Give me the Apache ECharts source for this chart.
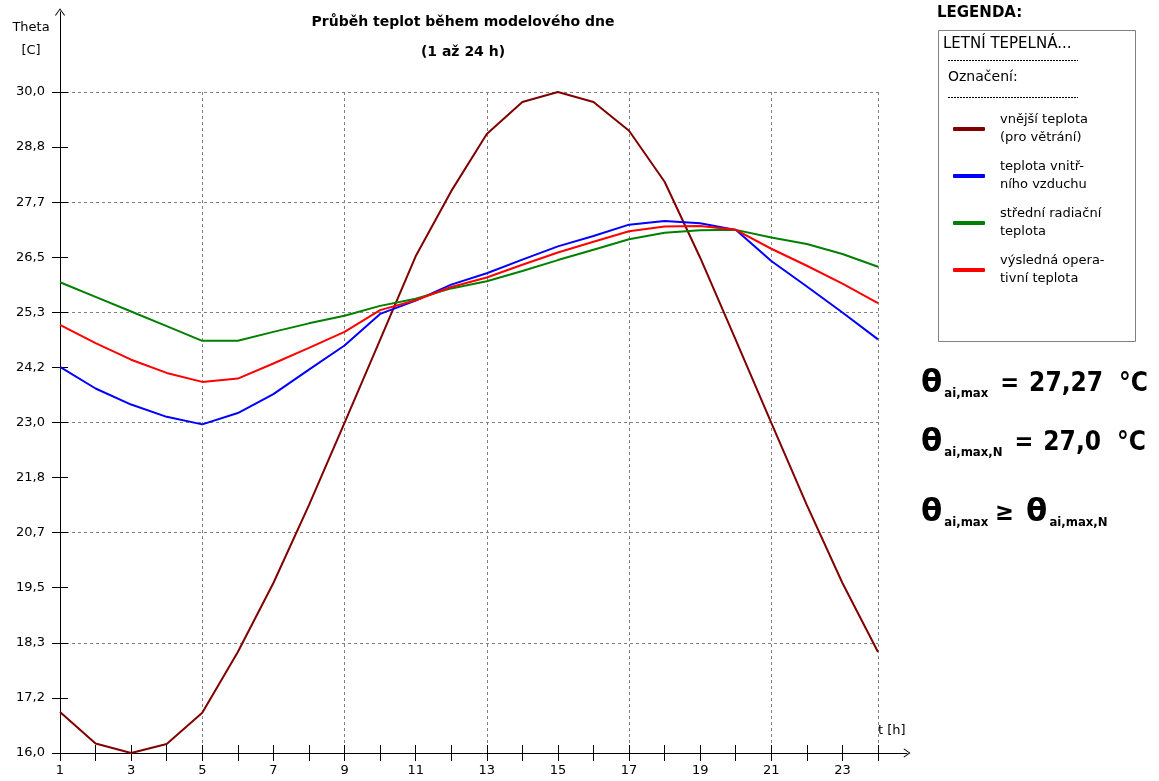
<!DOCTYPE html>
<html>
<head>
<meta charset="utf-8">
<script src="https://cdn.jsdelivr.net/npm/echarts@6/dist/echarts.min.js"></script>
<style>
  html, body { margin: 0; padding: 0; background: #fff; }
  #chart { width: 1159px; height: 781px; }
</style>
</head>
<body>
<div id="chart"></div>
<script>
// Hour of the model day
var hours = [1, 2, 3, 4, 5, 6, 7, 8, 9, 10, 11, 12, 13, 14, 15, 16, 17, 18, 19, 20, 21, 22, 23, 24];

// Temperatures [°C]
var outdoorTemp = [16.87, 16.20, 16.00, 16.19, 16.85, 18.14, 19.60, 21.25, 22.99, 24.75, 26.52, 27.90,
                   29.11, 29.79, 30.00, 29.79, 29.18, 28.10, 26.49, 24.75, 22.99, 21.25, 19.60, 18.14];
var indoorAirTemp = [24.18, 23.72, 23.38, 23.12, 22.96, 23.20, 23.60, 24.12, 24.63, 25.30, 25.58, 25.92,
                     26.16, 26.45, 26.73, 26.95, 27.19, 27.27, 27.22, 27.08, 26.42, 25.88, 25.33, 24.76];
var radiantTemp = [25.97, 25.66, 25.35, 25.04, 24.73, 24.73, 24.92, 25.10, 25.26, 25.47, 25.62, 25.84,
                   25.99, 26.21, 26.44, 26.66, 26.88, 27.02, 27.07, 27.08, 26.92, 26.78, 26.57, 26.30];
var operativeTemp = [25.07, 24.68, 24.33, 24.05, 23.86, 23.93, 24.25, 24.58, 24.92, 25.38, 25.59, 25.87,
                     26.07, 26.34, 26.60, 26.83, 27.05, 27.15, 27.16, 27.08, 26.68, 26.32, 25.94, 25.53];

var seriesNames = ['vnější teplota\n(pro větrání)', 'teplota vnitř-\nního vzduchu',
                   'střední radiační\nteplota', 'výsledná opera-\ntivní teplota'];
var seriesColors = ['#800000', '#0000ff', '#008000', '#ff0000'];

var Y_MIN = 16, Y_MAX = 30, Y_STEP = (Y_MAX - Y_MIN) / 12;
var X_MIN = 1, X_MAX = 24;

function pairs(values) {
  return hours.map(function (h, i) { return [h, values[i]]; });
}

// open arrow head for the axis ends
var chevron = 'path://M0,0 L5,7 L4.2,7.6 L0,1.6 L-4.2,7.6 L-5,7 Z';
var uiFont = 'DejaVu Sans';
var mathFont = 'DejaVu Sans Condensed';

function blankAxis(extra) {
  var base = {
    axisLine: { show: false }, axisTick: { show: false },
    axisLabel: { show: false }, splitLine: { show: false }
  };
  for (var k in extra) base[k] = extra[k];
  return base;
}

function formulaRich() {
  var c = '#000';
  return {
    th: { fontFamily: uiFont, fontSize: 31, fontWeight: 'bold', color: c },
    s:  { fontFamily: mathFont, fontSize: 13, fontWeight: 'bold', color: c, padding: [19, 0, 0, 2] },
    op: { fontFamily: mathFont, fontSize: 25, fontWeight: 'bold', color: c, padding: [0, 0, 0, 12] },
    ge: { fontFamily: mathFont, fontSize: 25, fontWeight: 'bold', color: c, padding: [0, 0, 0, 7] },
    n:  { fontFamily: mathFont, fontSize: 26, fontWeight: 'bold', color: c, padding: [0, 0, 0, 10] },
    u:  { fontFamily: mathFont, fontSize: 26, fontWeight: 'bold', color: c, padding: [0, 0, 0, 16] },
    th2:{ fontFamily: uiFont, fontSize: 31, fontWeight: 'bold', color: c, padding: [0, 0, 0, 12] }
  };
}

var chart = echarts.init(document.getElementById('chart'), null, { renderer: 'canvas' });

var option = {
  animation: false,
  backgroundColor: '#ffffff',
  grid: [
    { left: 60, right: 281, top: 92, bottom: 28 },
    { left: 60, right: 252, top: 12, bottom: 28 }
  ],
  xAxis: [
    // hour ticks below the axis + labels
    blankAxis({
      gridIndex: 0, type: 'value', position: 'bottom', min: X_MIN, max: X_MAX, interval: 1,
      axisTick: { show: true, length: 8, lineStyle: { color: '#000', width: 1 } },
      axisLabel: {
        show: true, margin: 11, color: '#000', fontFamily: uiFont, fontSize: 13,
        formatter: function (v) { return (Math.round(v) % 2 === 1) ? String(Math.round(v)) : ''; }
      }
    }),
    // hour ticks above the axis
    blankAxis({
      gridIndex: 0, type: 'value', position: 'bottom', min: X_MIN, max: X_MAX, interval: 1,
      axisTick: { show: true, inside: true, length: 8, lineStyle: { color: '#000', width: 1 } }
    }),
    // dashed grid every 4 hours
    blankAxis({
      gridIndex: 0, type: 'value', position: 'bottom', min: X_MIN, max: X_MAX, interval: 4,
      splitLine: { show: true, lineStyle: { color: '#808080', type: [3, 3], width: 1 } }
    }),
    // axis line with arrow
    blankAxis({
      gridIndex: 1, type: 'value', position: 'bottom', min: 0, max: 1,
      axisLine: { show: true, onZero: false, lineStyle: { color: '#000', width: 1 },
                  symbol: ['none', chevron], symbolSize: [10, 7] }
    })
  ],
  yAxis: [
    blankAxis({
      gridIndex: 0, type: 'value', position: 'left', min: Y_MIN, max: Y_MAX, interval: Y_STEP,
      axisTick: { show: true, length: 8, lineStyle: { color: '#000', width: 1 } },
      axisLabel: {
        show: true, margin: 15, color: '#000', fontFamily: uiFont, fontSize: 13,
        formatter: function (v) { return v.toFixed(1).replace('.', ','); }
      }
    }),
    blankAxis({
      gridIndex: 0, type: 'value', position: 'left', min: Y_MIN, max: Y_MAX, interval: Y_STEP,
      axisTick: { show: true, inside: true, length: 8, lineStyle: { color: '#000', width: 1 } }
    }),
    blankAxis({
      gridIndex: 0, type: 'value', position: 'left', min: Y_MIN, max: Y_MAX, interval: Y_STEP * 2,
      splitLine: { show: true, lineStyle: { color: '#808080', type: [3, 3], width: 1 } }
    }),
    blankAxis({
      gridIndex: 1, type: 'value', position: 'left', min: 0, max: 1,
      axisLine: { show: true, onZero: false, lineStyle: { color: '#000', width: 1 },
                  symbol: ['none', chevron], symbolSize: [10, 8] }
    })
  ],
  legend: {
    orient: 'vertical', left: 948, top: 106,
    itemWidth: 32, itemHeight: 4, itemGap: 11, icon: 'roundRect',
    selectedMode: false,
    textStyle: { color: '#000', fontFamily: uiFont, fontSize: 13, lineHeight: 18, padding: [0, 0, 0, 10] },
    data: seriesNames
  },
  series: [outdoorTemp, indoorAirTemp, radiantTemp, operativeTemp].map(function (vals, i) {
    return {
      name: seriesNames[i], type: 'line', xAxisIndex: 0, yAxisIndex: 0,
      data: pairs(vals), showSymbol: false, symbol: 'none',
      lineStyle: { color: seriesColors[i], width: 2 }, itemStyle: { color: seriesColors[i] },
      z: 3
    };
  }),
  graphic: [
    { type: 'text', x: 463, y: 15, style: { text: 'Průběh teplot během modelového dne', textAlign: 'center',
      fill: '#000', font: 'bold 14px "' + uiFont + '"' } },
    { type: 'text', x: 463, y: 45, style: { text: '(1 až 24 h)', textAlign: 'center',
      fill: '#000', font: 'bold 14px "' + uiFont + '"' } },
    { type: 'text', x: 31, y: 16, style: { text: 'Theta\n[C]', textAlign: 'center', lineHeight: 23,
      fill: '#000', font: '13px "' + uiFont + '"' } },
    { type: 'text', x: 878, y: 724, style: { text: 't [h]', fill: '#000', font: '13px "' + uiFont + '"' } },
    { type: 'text', x: 937, y: 6, style: { text: 'LEGENDA:', fill: '#000', font: 'bold 15px "' + uiFont + '"' } },
    { type: 'rect', shape: { x: 938.5, y: 30.5, width: 197, height: 311 },
      style: { fill: '#fff', stroke: '#808080', lineWidth: 1 }, z: -1 },
    { type: 'text', x: 943, y: 37, style: { text: 'LETNÍ TEPELNÁ...', fill: '#000', font: '15px "' + uiFont + '"' } },
    { type: 'line', shape: { x1: 948, y1: 60.5, x2: 1078, y2: 60.5 },
      style: { stroke: '#000', lineWidth: 1, lineDash: [2, 1] } },
    { type: 'text', x: 948, y: 70, style: { text: 'Označení:', fill: '#000', font: '14px "' + uiFont + '"' } },
    { type: 'line', shape: { x1: 948, y1: 97.5, x2: 1078, y2: 97.5 },
      style: { stroke: '#000', lineWidth: 1, lineDash: [2, 1] } },
    { type: 'text', x: 921, y: 368, style: {
      text: '{th|θ}{s|ai,max}{op|=}{n|27,27}{u|°C}', rich: formulaRich() } },
    { type: 'text', x: 921, y: 427, style: {
      text: '{th|θ}{s|ai,max,N}{op|=}{n|27,0}{u|°C}', rich: formulaRich() } },
    { type: 'text', x: 921, y: 497, style: {
      text: '{th|θ}{s|ai,max}{ge|≥}{th2|θ}{s|ai,max,N}', rich: formulaRich() } }
  ]
};

chart.setOption(option);
</script>
</body>
</html>
